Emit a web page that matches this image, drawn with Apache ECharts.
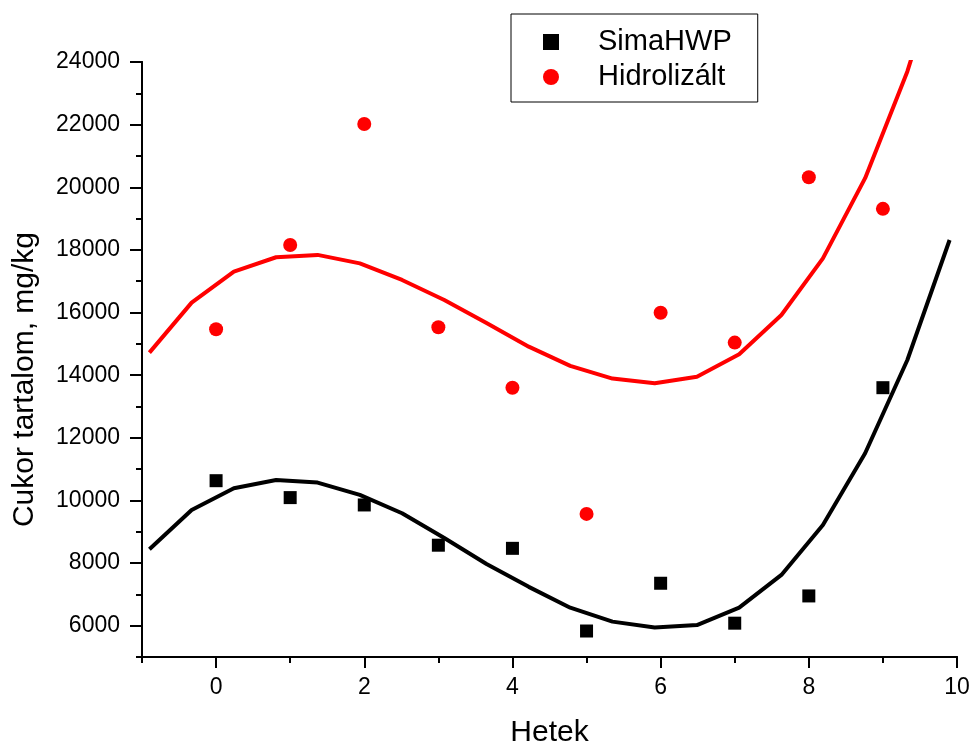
<!DOCTYPE html>
<html>
<head>
<meta charset="utf-8">
<script src="https://cdn.jsdelivr.net/npm/echarts@6/dist/echarts.min.js"></script>
<style>
  html, body { margin: 0; padding: 0; background: #fff; }
  #main { width: 974px; height: 744px; }
</style>
</head>
<body>
<div id="main"></div>
<script>
// measured points
const weeks = [0, 1, 2, 3, 4, 5, 6, 7, 8, 9]
const simaHWP = [10630, 10090, 9855, 8570, 8470, 5830, 7355, 6080, 6950, 13600]
const hidrolizalt = [15465, 18155, 22020, 15530, 13600, 9570, 15995, 15040, 20320, 19310]

// fitted curves
const fitX = [-0.90, -0.33, 0.24, 0.81, 1.37, 1.94, 2.51, 3.08, 3.65, 4.22,
  4.78, 5.35, 5.92, 6.49, 7.06, 7.63, 8.19, 8.76, 9.33, 9.90]
const fitSima = [8440, 9695, 10390, 10650, 10570, 10175, 9590, 8800, 7970, 7240,
  6575, 6130, 5940, 6020, 6575, 7620, 9215, 11505, 14485, 18315]
const fitHidro = [14720, 16315, 17305, 17765, 17840, 17570, 17040, 16400, 15665, 14910,
  14295, 13890, 13740, 13950, 14665, 15920, 17730, 20290, 23700, 28000]

// tick labels
const xMajor = [0, 2, 4, 6, 8, 10]
const xMinor = [-1, 1, 3, 5, 7, 9]
const yMajor = [6000, 8000, 10000, 12000, 14000, 16000, 18000, 20000, 22000, 24000]
const yMinor = [5000, 7000, 9000, 11000, 13000, 15000, 17000, 19000, 21000, 23000]

const font = 'Liberation Sans, Arial, sans-serif'
const pair = (xs, ys) => xs.map((x, i) => [x, ys[i]])

const baseX = {
  type: 'value',
  min: -1,
  max: 10,
  position: 'bottom',
  splitLine: { show: false },
  axisLine: { onZero: false, lineStyle: { color: '#000', width: 2 } }
}
const baseY = {
  type: 'value',
  min: 5000,
  max: 24000,
  position: 'left',
  splitLine: { show: false },
  axisLine: { onZero: false, lineStyle: { color: '#000', width: 2 } }
}

const option = {
  animation: false,
  backgroundColor: '#fff',
  grid: { left: 142, right: 17, top: 62, bottom: 87, outerBoundsMode: 'none' },
  legend: {
    orient: 'vertical',
    left: 511,
    top: 14,
    padding: [13, 26, 10, 32],
    itemGap: 5,
    itemWidth: 16,
    itemHeight: 16,
    borderColor: '#000',
    borderWidth: 1,
    backgroundColor: '#fff',
    selectedMode: false,
    textStyle: { fontFamily: font, fontSize: 29, color: '#000', lineHeight: 30, padding: [0, 0, 0, 34] },
    data: [
      { name: 'SimaHWP', icon: 'rect' },
      { name: 'Hidrolizált', icon: 'circle' }
    ]
  },
  xAxis: [
    Object.assign({}, baseX, {
      name: 'Hetek',
      nameLocation: 'middle',
      nameGap: 61,
      nameTextStyle: { fontFamily: font, fontSize: 30, color: '#000' },
      axisTick: { customValues: xMajor, length: 11, lineStyle: { color: '#000', width: 2 } },
      axisLabel: { customValues: xMajor, margin: 19, fontFamily: font, fontSize: 23, color: '#000' }
    }),
    Object.assign({}, baseX, {
      axisTick: { customValues: xMinor, length: 6, lineStyle: { color: '#000', width: 2 } },
      axisLabel: { show: false }
    })
  ],
  yAxis: [
    Object.assign({}, baseY, {
      name: 'Cukor tartalom, mg/kg',
      nameLocation: 'middle',
      nameGap: 102,
      nameTextStyle: { fontFamily: font, fontSize: 30, color: '#000', padding: [0, 40, 0, 0] },
      axisTick: { customValues: yMajor, length: 12, lineStyle: { color: '#000', width: 2 } },
      axisLabel: {
        customValues: yMajor,
        margin: 22,
        fontFamily: font,
        fontSize: 23,
        color: '#000',
        formatter: v => String(v)
      }
    }),
    Object.assign({}, baseY, {
      axisTick: { customValues: yMinor, length: 6, lineStyle: { color: '#000', width: 2 } },
      axisLabel: { show: false }
    })
  ],
  series: [
    {
      name: 'fitSima',
      type: 'line',
      data: pair(fitX, fitSima),
      showSymbol: false,
      lineStyle: { color: '#000', width: 4 },
      itemStyle: { color: '#000' },
      clip: true
    },
    {
      name: 'fitHidro',
      type: 'line',
      data: pair(fitX, fitHidro),
      showSymbol: false,
      lineStyle: { color: '#ff0000', width: 4 },
      itemStyle: { color: '#ff0000' },
      clip: true
    },
    {
      name: 'SimaHWP',
      type: 'scatter',
      symbol: 'rect',
      symbolSize: 13,
      itemStyle: { color: '#000', opacity: 1 },
      data: pair(weeks, simaHWP)
    },
    {
      name: 'Hidrolizált',
      type: 'scatter',
      symbol: 'circle',
      symbolSize: 14,
      itemStyle: { color: '#ff0000', opacity: 1 },
      data: pair(weeks, hidrolizalt)
    }
  ]
}

const myChart = echarts.init(document.getElementById('main'))
myChart.setOption(option)
</script>
</body>
</html>
